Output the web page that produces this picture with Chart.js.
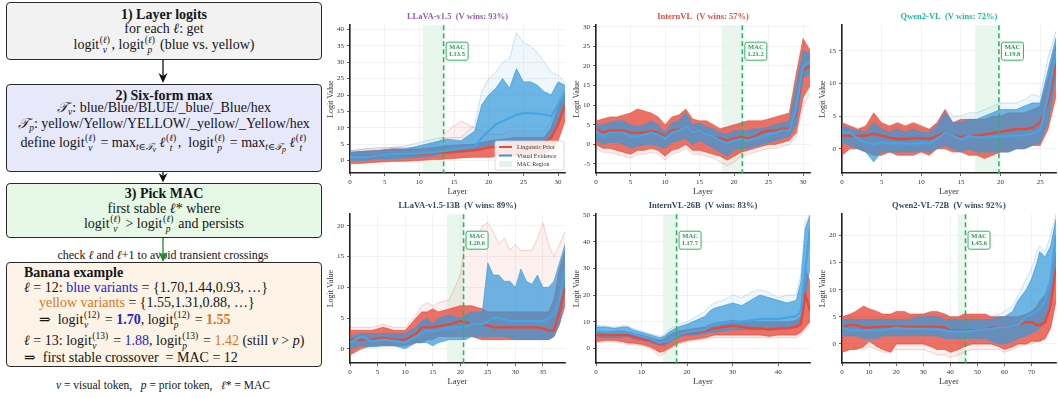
<!DOCTYPE html>
<html>
<head>
<meta charset="utf-8">
<script src="https://cdn.jsdelivr.net/npm/chart.js@4.4.1/dist/chart.umd.min.js"></script>
<style>
  html, body { margin: 0; padding: 0; background: #fff; }
  body { width: 1058px; height: 398px; position: relative; overflow: hidden;
         font-family: 'Liberation Serif', 'DejaVu Serif', serif; color: #151515; }
  .box { position: absolute; left: 6px; width: 316px; border: 1.3px solid #2a2a2a;
         border-radius: 4px; box-sizing: border-box; }
  .ln { position: absolute; left: 0; right: 0; text-align: center; white-space: nowrap;
        transform: translateY(-50%); line-height: 14px; font-size: 14px; }
  .ll { left: 17px; right: auto; text-align: left; }
  .b { font-weight: bold; }
  .ss { display: inline-block; font-size: 9.5px; line-height: 10px; vertical-align: -4px; margin: 0 1.5px 0 0.5px; }
  .ms { font-size: 9.5px; vertical-align: -3px; }
  .bl { color: #2424c8; }
  .or { color: #d9771e; }
  canvas { position: absolute; }
  #note { position: absolute; left: 0; width: 326px; top: 255px; text-align: center; font-size: 12px;
          transform: translateY(-50%); white-space: nowrap; }
  #foot { position: absolute; left: 0; width: 326px; top: 385px; text-align: center; font-size: 11.5px;
          transform: translateY(-50%); white-space: nowrap; }
</style>
</head>
<body>

<div class="box" style="top:2px;height:58px;background:#f2f2f2">
  <div class="ln b" style="top:12px">1) Layer logits</div>
  <div class="ln" style="top:26px">for each <i>ℓ</i>: get</div>
  <div class="ln" style="top:42px">logit<span class="ss">(<i>ℓ</i>)<br><i>v</i></span>, logit<span class="ss">(<i>ℓ</i>)<br><i>p</i></span> (blue vs. yellow)</div>
</div>

<div class="box" style="top:84px;height:88px;background:#e8e8fb">
  <div class="ln b" style="top:11px">2) Six-form max</div>
  <div class="ln" style="top:25px"><i>𝒯</i><span class="ms"><i>v</i></span>: blue/Blue/BLUE/_blue/_Blue/hex</div>
  <div class="ln" style="top:41px"><i>𝒯</i><span class="ms"><i>p</i></span>: yellow/Yellow/YELLOW/_yellow/_Yellow/hex</div>
  <div class="ln" style="top:60px">define logit<span class="ss">(<i>ℓ</i>)<br><i>v</i></span> = max<span class="ms"><i>t</i>∈<i>𝒯<sub>v</sub></i></span> <i>ℓ</i><span class="ss">(<i>ℓ</i>)<br><i>t</i></span>,&nbsp; logit<span class="ss">(<i>ℓ</i>)<br><i>p</i></span> = max<span class="ms"><i>t</i>∈<i>𝒯<sub>p</sub></i></span> <i>ℓ</i><span class="ss">(<i>ℓ</i>)<br><i>t</i></span></div>
</div>

<div class="box" style="top:183px;height:55px;background:#e6f8e6">
  <div class="ln b" style="top:10px">3) Pick MAC</div>
  <div class="ln" style="top:25px">first stable <i>ℓ</i>* where</div>
  <div class="ln" style="top:40px">logit<span class="ss">(<i>ℓ</i>)<br><i>v</i></span> &gt; logit<span class="ss">(<i>ℓ</i>)<br><i>p</i></span> and persists</div>
</div>

<div id="note">check <i>ℓ</i> and <i>ℓ</i>+1 to avoid transient crossings</div>

<div class="box" style="top:262px;height:105px;background:#fdf3e7">
  <div class="ln ll b" style="top:10px">Banana example</div>
  <div class="ln ll" style="top:25px"><i>ℓ</i> = 12: <span class="bl">blue variants</span> = {1.70,1.44,0.93, …}</div>
  <div class="ln ll" style="top:40px;left:32px"><span class="or">yellow variants</span> = {1.55,1.31,0.88, …}</div>
  <div class="ln ll" style="top:57px;left:32px">⇒ &nbsp;logit<span class="ss">(12)<br><i>v</i></span> = <b class="bl">1.70</b>, logit<span class="ss">(12)<br><i>p</i></span> = <b class="or">1.55</b></div>
  <div class="ln ll" style="top:78px"><i>ℓ</i> = 13: logit<span class="ss">(13)<br><i>v</i></span> = <span class="bl">1.88</span>, logit<span class="ss">(13)<br><i>p</i></span> = <span class="or">1.42</span> (still <i>v</i> &gt; <i>p</i>)</div>
  <div class="ln ll" style="top:95px">⇒ &nbsp;first stable crossover &nbsp;= MAC = 12</div>
</div>

<div id="foot"><i>v</i> = visual token, &nbsp;&nbsp;<i>p</i> = prior token, &nbsp;&nbsp;<i>ℓ</i>* = MAC</div>

<svg width="330" height="398" style="position:absolute;left:0;top:0;pointer-events:none">
  <line x1="163" y1="60" x2="163" y2="77" stroke="#111" stroke-width="1.3"/>
  <polygon points="158.5,73 163,83 167.5,73 163,76" fill="#111"/>
  <line x1="163" y1="172" x2="163" y2="177" stroke="#111" stroke-width="1.3"/>
  <polygon points="158.5,173 163,182.5 167.5,173 163,176" fill="#111"/>
  <line x1="163" y1="238" x2="163" y2="256" stroke="#1e8c1e" stroke-width="1.3"/>
  <polygon points="158.5,252 163,262 167.5,252 163,255" fill="#1e8c1e"/>
</svg>

<canvas id="p0" width="245" height="190" style="left:322px;top:8px"></canvas>
<canvas id="p1" width="244" height="190" style="left:568px;top:8px"></canvas>
<canvas id="p2" width="244" height="190" style="left:814px;top:8px"></canvas>
<canvas id="p3" width="245" height="191" style="left:322px;top:197px"></canvas>
<canvas id="p4" width="244" height="191" style="left:568px;top:197px"></canvas>
<canvas id="p5" width="244" height="191" style="left:814px;top:197px"></canvas>

<script>
// ---- panel settings ----
const panelTitles = ['LLaVA-v1.5  (V wins: 93%)', 'InternVL  (V wins: 57%)', 'Qwen2-VL  (V wins: 72%)',
                     'LLaVA-v1.5-13B  (V wins: 89%)', 'InternVL-26B  (V wins: 83%)', 'Qwen2-VL-72B  (V wins: 92%)'];
const titleColors = ['#9b59b6', '#e74c3c', '#1abc9c', '#34495e', '#34495e', '#34495e'];
const lastLayer = [31, 31, 27, 39, 47, 79];
const macLayer = [13.5, 21.2, 19.8, 20.6, 17.7, 45.6];
const macSpan = 3;
const yMin = [-3.8, -7.3, -3.7, -2.3, -5.5, -3.5];
const yMax = [41.3, 30.4, 18.9, 21.9, 50.3, 23.9];
const yStep = [5, 5, 5, 5, 10, 5];
const xStep = [5, 5, 5, 5, 10, 10];
const legendLabels = ['Linguistic Prior', 'Visual Evidence', 'MAC Region'];

// ---- LLaVA-v1.5 ----
const p0Layers   = [0, 2, 4, 6, 8, 10, 12, 13, 14, 16, 18, 19, 20, 21, 22, 23, 24, 25, 26, 27, 28, 29, 30, 31];
const p0Prior    = [1.0, 1.2, 1.5, 2.0, 1.8, 2.0, 2.3, 2.5, 2.5, 2.8, 3.2, 3.5, 4.0, 4.2, 4.5, 4.8, 5.0, 5.2, 5.3, 5.5, 5.6, 7.0, 11.0, 17.0];
const p0Visual   = [1.0, 1.0, 1.5, 2.0, 2.0, 2.2, 2.5, 2.8, 3.0, 3.8, 4.2, 7.0, 9.0, 11.0, 12.0, 13.0, 14.0, 14.5, 14.5, 14.3, 14.0, 13.5, 17.0, 20.5];
const p0PriorHi  = [2.5, 2.8, 3.0, 3.5, 3.5, 3.5, 4.0, 4.2, 4.5, 4.8, 5.0, 5.5, 6.0, 6.3, 6.5, 6.8, 7.0, 7.0, 7.0, 7.0, 7.0, 10.0, 16.0, 21.0];
const p0PriorLo  = [-1.0, -0.8, -0.5, -0.3, -0.2, 0.0, 0.3, 0.3, 0.5, 0.8, 1.0, 1.0, 1.0, 1.2, 1.3, 1.4, 1.5, 1.6, 1.7, 1.8, 2.0, 3.0, 6.0, 12.0];
const p0VisualHi = [2.5, 2.8, 3.0, 3.5, 3.5, 4.5, 5.5, 6.0, 6.5, 6.0, 9.0, 17.0, 20.0, 22.0, 25.0, 22.0, 28.0, 24.0, 24.0, 23.0, 21.0, 20.0, 24.0, 23.0];
const p0VisualLo = [0.0, 0.0, 0.5, 0.5, 0.8, 1.0, 1.5, 2.0, 2.0, 2.5, 3.0, 3.5, 4.0, 4.5, 5.0, 5.0, 5.0, 5.5, 5.5, 6.0, 6.0, 7.0, 12.0, 16.0];
const p0VisualFaint = [3.0, 3.5, 4.0, 4.0, 4.5, 5.5, 6.5, 7.0, 7.0, 7.0, 11.0, 21.0, 25.0, 27.0, 30.0, 31.0, 39.0, 36.0, 35.0, 33.0, 30.0, 27.0, 26.0, 24.0];
const p0PriorFaint  = [3.0, 3.5, 3.5, 4.0, 4.0, 4.0, 5.0, 6.0, 9.0, 12.0, 10.0, 9.0, 8.0, 8.0, 8.0, 9.0, 9.0, 9.0, 9.0, 9.0, 9.0, 12.0, 18.0, 22.0];

// ---- InternVL ----
const p1Layers   = [0, 1, 2, 3, 4, 5, 6, 7, 8, 9, 10, 11, 12, 13, 14, 15, 16, 17, 18, 19, 20, 21, 22, 23, 24, 25, 26, 27, 28, 29, 30, 31];
const p1Prior    = [4.0, 3.0, 3.5, 3.5, 3.5, 3.0, 3.0, 3.0, 3.5, 3.0, 2.0, 3.5, 3.8, 4.5, 3.0, 3.5, 2.5, 2.0, 1.5, 1.0, 1.5, 2.0, 1.5, 2.0, 3.0, 3.5, 3.5, 4.0, 4.0, 8.0, 19.0, 20.0];
const p1Visual   = [3.5, 2.0, 3.0, 3.0, 3.0, 2.0, 2.0, 2.5, 3.0, 2.5, 1.5, 3.0, 3.5, 4.5, 3.0, 3.5, 2.5, 2.0, 1.0, 0.3, 1.0, 1.3, 1.0, 1.5, 2.0, 2.5, 3.0, 3.5, 3.5, 9.0, 20.0, 21.0];
const p1PriorHi  = [6.0, 6.5, 7.0, 7.0, 7.5, 8.0, 9.0, 8.5, 8.0, 7.0, 5.0, 7.0, 7.5, 9.0, 6.5, 6.0, 6.0, 5.0, 4.0, 4.5, 5.0, 5.5, 6.0, 6.0, 6.0, 6.5, 7.0, 7.5, 8.0, 18.0, 27.0, 24.0];
const p1PriorLo  = [0.0, -1.0, -1.0, -1.5, -2.0, -2.5, -1.5, -1.5, -1.0, -1.5, -3.0, -1.5, -1.0, 0.0, -1.5, -1.5, -2.0, -2.5, -3.0, -4.0, -3.0, -2.0, -1.5, -1.0, -0.5, 0.0, 0.0, 0.5, 1.0, 3.0, 12.0, 15.0];
const p1VisualHi = [5.0, 5.0, 5.5, 6.0, 6.0, 5.0, 4.5, 5.0, 6.0, 5.0, 3.0, 5.5, 6.0, 8.0, 5.0, 5.5, 4.5, 4.0, 3.0, 2.5, 3.5, 3.5, 3.5, 4.0, 4.0, 4.5, 5.0, 5.5, 6.0, 15.0, 24.0, 23.0];
const p1VisualLo = [1.0, 0.0, 0.5, 0.5, 0.0, -1.0, -0.5, 0.0, 0.0, -0.5, -1.0, 0.5, 1.0, 1.5, 0.0, 1.0, 0.0, -1.0, -2.0, -3.0, -1.5, -1.0, -1.0, -0.5, 0.0, 0.5, 1.0, 1.5, 2.0, 5.0, 17.0, 18.0];
const p1PriorFaint = [-1.0, -2.0, -2.0, -2.5, -3.0, -3.5, -2.5, -2.5, -2.0, -2.5, -4.0, -2.5, -2.0, -1.0, -2.5, -2.5, -3.0, -3.5, -4.5, -5.5, -4.5, -3.0, -2.5, -2.0, -1.5, -1.0, -1.0, -0.5, 0.0, 2.0, 10.0, 13.0];

// ---- Qwen2-VL ----
const p2Layers   = [0, 1, 2, 3, 4, 5, 6, 7, 8, 9, 10, 11, 12, 13, 14, 15, 16, 17, 18, 19, 20, 21, 22, 23, 24, 25, 26, 27];
const p2Prior    = [2.0, 2.0, 2.0, 2.0, 2.3, 2.0, 1.7, 1.5, 1.5, 1.6, 1.6, 1.5, 2.0, 2.5, 2.0, 1.8, 2.0, 2.0, 2.2, 2.4, 2.6, 2.8, 3.0, 3.0, 3.2, 4.0, 7.0, 13.0];
const p2Visual   = [2.5, 2.5, 1.5, 1.0, 0.7, 1.0, 0.8, 0.9, 0.8, 0.8, 0.9, 0.8, 1.5, 2.5, 2.0, 1.4, 2.0, 1.7, 1.8, 1.8, 1.9, 2.0, 2.0, 2.1, 2.3, 2.8, 8.0, 15.0];
const p2PriorHi  = [4.0, 3.5, 3.0, 3.5, 5.5, 4.0, 3.5, 4.0, 3.5, 4.0, 3.5, 3.0, 4.0, 6.0, 4.0, 4.5, 4.5, 4.5, 4.5, 5.0, 5.0, 5.5, 5.5, 5.5, 6.0, 6.5, 11.0, 16.0];
const p2PriorLo  = [-1.0, 0.0, 0.0, -0.5, -1.0, -1.0, -0.5, -1.0, -1.0, -1.0, -0.5, -1.0, 0.0, 0.0, -0.5, -0.5, -1.0, -1.0, -1.5, -1.0, -0.5, -0.5, 0.0, 0.0, 0.5, 0.5, 3.0, 8.0];
const p2VisualHi = [3.5, 3.0, 2.8, 2.5, 4.0, 3.0, 2.5, 3.0, 2.5, 3.0, 2.5, 2.5, 3.5, 5.5, 4.0, 4.0, 4.5, 4.5, 5.0, 5.5, 6.0, 6.0, 6.0, 6.5, 7.0, 7.0, 12.0, 17.0];
const p2VisualLo = [1.0, 0.5, 0.0, -0.5, -2.0, -0.5, -0.5, -0.5, -0.5, -0.5, -0.3, -0.5, 0.0, 0.5, 0.0, -0.5, 0.0, -0.5, -0.5, -0.5, -0.5, -0.5, 0.0, 0.0, 0.5, 1.0, 4.0, 11.0];
const p2VisualFaint = [4.0, 3.5, 3.2, 3.0, 4.5, 3.5, 3.0, 3.5, 3.0, 3.5, 3.0, 3.0, 4.0, 6.0, 5.0, 5.0, 5.5, 5.5, 6.0, 6.5, 7.0, 7.0, 7.0, 7.5, 8.3, 8.0, 14.0, 18.0];

// ---- LLaVA-v1.5-13B ----
const p3Layers   = [0, 2, 4, 6, 8, 10, 12, 13, 14, 15, 16, 18, 20, 21, 22, 24, 25, 26, 27, 28, 29, 30, 31, 32, 33, 34, 35, 36, 37, 38, 39];
const p3Prior    = [1.5, 1.5, 1.5, 1.8, 1.5, 1.5, 2.5, 3.5, 3.5, 3.5, 3.7, 4.0, 4.5, 4.3, 4.0, 4.0, 3.8, 3.5, 3.5, 3.5, 3.5, 3.5, 3.5, 3.5, 3.5, 3.5, 3.3, 3.0, 3.0, 6.0, 10.0];
const p3Visual   = [1.0, 2.0, 1.2, 1.5, 1.3, 1.0, 2.0, 2.5, 3.0, 2.8, 3.0, 3.5, 3.5, 3.5, 4.0, 4.0, 4.5, 5.0, 5.0, 4.8, 4.5, 4.5, 4.5, 4.5, 4.5, 4.5, 4.5, 5.0, 5.5, 8.0, 13.0];
const p3PriorHi  = [3.0, 3.0, 3.0, 3.5, 3.0, 3.0, 5.0, 6.0, 6.0, 6.5, 6.0, 6.5, 7.0, 7.0, 7.0, 6.5, 6.0, 6.0, 6.0, 6.0, 6.0, 6.0, 6.0, 6.0, 6.0, 6.0, 6.0, 6.0, 8.0, 13.0, 16.0];
const p3PriorLo  = [-1.0, 0.0, 0.5, 0.5, 0.5, 0.5, 1.0, 1.0, 1.5, 1.5, 2.0, 2.0, 2.0, 2.0, 2.0, 1.5, 1.5, 1.5, 1.5, 1.5, 1.5, 1.5, 1.5, 1.5, 1.5, 1.5, 1.5, 1.5, 2.0, 4.0, 7.0];
const p3VisualHi = [2.0, 2.5, 2.5, 2.5, 2.5, 2.5, 3.5, 4.5, 5.0, 4.0, 5.0, 5.5, 5.0, 5.5, 6.0, 6.0, 14.0, 12.0, 12.0, 11.0, 11.0, 10.0, 13.0, 11.0, 10.5, 12.0, 10.0, 10.0, 11.0, 14.0, 17.0];
const p3VisualLo = [0.0, 0.5, 0.3, 0.5, 0.5, 0.0, 1.0, 1.0, 1.0, 0.5, 1.0, 1.5, 1.5, 1.5, 2.0, 2.0, 2.0, 2.0, 2.0, 2.0, 1.8, 1.5, 1.5, 1.5, 1.5, 1.5, 1.5, 1.5, 2.0, 4.0, 9.0];
const p3PriorFaint = [3.5, 3.5, 3.5, 4.0, 3.5, 3.5, 5.5, 7.0, 7.5, 7.0, 7.5, 8.0, 12.0, 18.0, 16.0, 20.0, 20.5, 19.0, 17.0, 18.0, 16.0, 17.0, 16.0, 16.0, 16.0, 18.0, 20.5, 17.0, 15.0, 17.0, 19.0];

// ---- InternVL-26B ----
const p4Layers   = [0, 2, 4, 6, 7, 8, 10, 12, 14, 15, 16, 18, 20, 22, 24, 25, 26, 28, 30, 32, 34, 36, 38, 40, 42, 44, 45, 46, 47];
const p4Prior    = [5.0, 5.0, 5.0, 5.0, 5.0, 4.5, 3.5, 3.0, 1.5, 2.0, 3.0, 5.0, 5.5, 6.0, 6.5, 7.0, 7.5, 8.0, 8.5, 8.0, 7.5, 7.5, 7.0, 7.5, 7.5, 8.0, 9.0, 20.0, 14.0];
const p4Visual   = [6.5, 6.0, 6.0, 6.0, 6.0, 5.5, 4.5, 3.5, 2.0, 2.5, 3.0, 5.0, 6.0, 6.5, 7.0, 8.5, 9.0, 9.5, 10.0, 10.0, 10.5, 11.0, 11.0, 11.0, 11.5, 12.0, 14.0, 30.0, 45.0];
const p4PriorHi  = [6.0, 6.0, 6.5, 6.5, 6.0, 5.5, 5.0, 4.0, 3.0, 3.5, 5.0, 6.5, 7.0, 7.5, 8.0, 9.0, 9.5, 10.0, 10.5, 10.0, 10.0, 10.0, 10.0, 10.0, 10.0, 10.5, 12.0, 30.0, 25.0];
const p4PriorLo  = [2.5, 3.0, 3.0, 2.5, 2.0, 2.0, 1.5, 0.5, -1.5, -1.0, 0.0, 2.0, 3.0, 3.5, 4.0, 4.5, 5.0, 5.0, 5.0, 5.0, 5.0, 5.0, 4.5, 5.0, 5.0, 5.0, 6.0, 8.0, 10.0];
const p4VisualHi = [8.0, 8.0, 7.5, 8.0, 8.0, 7.0, 6.0, 5.0, 4.0, 4.5, 6.0, 8.0, 9.0, 10.5, 12.0, 14.0, 15.0, 16.0, 17.0, 16.0, 18.0, 20.0, 19.0, 18.0, 17.0, 18.0, 25.0, 45.0, 50.0];
const p4VisualLo = [4.0, 4.0, 4.0, 4.0, 4.5, 3.5, 3.0, 2.0, 1.0, 1.0, 2.0, 4.0, 5.0, 5.0, 5.5, 6.0, 6.0, 6.5, 7.0, 7.0, 7.0, 7.0, 7.0, 7.0, 7.5, 8.0, 10.0, 20.0, 30.0];
const p4VisualFaint = [8.5, 8.5, 8.0, 8.5, 8.5, 7.5, 6.5, 5.5, 4.5, 5.0, 7.0, 9.0, 10.0, 12.0, 14.0, 16.0, 17.0, 18.0, 20.0, 19.0, 21.0, 22.0, 21.0, 19.0, 20.0, 20.0, 28.0, 48.0, 50.0];
const p4PriorFaint  = [2.0, 2.5, 2.5, 2.0, 1.5, 1.5, 1.0, 0.0, -3.0, -2.0, -0.5, 1.5, 2.5, 3.0, 3.5, 4.0, 4.0, 4.0, 4.0, 4.0, 4.0, 4.0, 4.0, 4.0, 4.0, 4.0, 5.0, 7.0, 9.0];

// ---- Qwen2-VL-72B ----
const p5Layers   = [0, 3, 5, 8, 10, 13, 15, 18, 20, 23, 25, 28, 30, 33, 35, 38, 40, 43, 45, 48, 50, 53, 55, 58, 60, 63, 65, 68, 70, 72, 73, 75, 77, 79];
const p5Prior    = [3.0, 3.5, 3.5, 3.0, 3.0, 3.2, 3.2, 3.2, 3.2, 3.2, 3.2, 3.2, 3.2, 3.2, 3.2, 3.0, 2.5, 2.5, 2.5, 2.5, 2.5, 2.7, 3.0, 3.0, 3.0, 3.2, 3.5, 4.0, 4.0, 3.5, 3.5, 4.0, 7.0, 14.0];
const p5Visual   = [3.0, 2.5, 2.5, 2.5, 2.5, 2.5, 2.5, 2.8, 3.0, 2.8, 2.8, 2.8, 2.8, 2.7, 2.7, 2.5, 2.3, 2.3, 2.3, 2.4, 2.5, 2.7, 2.8, 3.0, 3.0, 3.3, 3.5, 5.0, 5.5, 6.0, 6.5, 8.0, 12.0, 20.0];
const p5PriorHi  = [5.0, 5.5, 6.0, 7.0, 6.5, 6.0, 5.5, 5.5, 6.0, 6.0, 5.5, 5.5, 5.5, 6.0, 6.0, 5.5, 5.0, 5.0, 5.5, 5.5, 5.5, 5.5, 5.0, 5.0, 5.0, 5.0, 5.0, 5.5, 6.0, 7.0, 8.0, 9.0, 12.0, 17.0];
const p5PriorLo  = [-1.5, -1.0, -1.0, -0.5, 0.5, -0.5, -1.0, -1.5, 0.0, 0.0, 0.0, 0.0, 0.0, -0.5, -1.0, -1.0, -1.5, -1.0, -0.5, 0.0, 0.0, 0.0, 0.0, -0.5, -1.0, -0.5, 0.0, 0.0, 0.5, 0.5, 0.5, 1.0, 3.0, 8.0];
const p5VisualHi = [4.5, 4.5, 4.5, 4.5, 4.5, 4.5, 4.5, 4.5, 4.5, 4.5, 4.5, 5.0, 5.0, 5.0, 5.0, 4.5, 4.5, 4.5, 4.5, 4.5, 4.5, 4.5, 4.5, 5.0, 5.0, 6.0, 8.0, 10.0, 12.0, 15.0, 17.0, 16.0, 18.0, 23.0];
const p5VisualLo = [1.5, 1.5, 1.5, 1.0, 1.0, 1.0, 1.5, 1.5, 1.5, 1.5, 1.5, 1.5, 1.5, 1.5, 1.5, 1.0, 1.0, 1.0, 1.0, 1.0, 1.0, 1.0, 0.5, 0.0, 0.0, 0.5, 1.0, 1.5, 2.0, 2.5, 3.0, 4.0, 8.0, 15.0];
const p5VisualFaint = [5.0, 5.0, 5.0, 5.0, 5.0, 5.0, 5.0, 5.0, 5.0, 5.0, 5.0, 5.5, 5.5, 5.5, 5.5, 5.0, 5.0, 5.0, 5.0, 5.0, 5.0, 5.0, 5.0, 5.5, 6.0, 7.0, 9.0, 12.0, 14.0, 17.0, 18.0, 17.0, 20.0, 24.0];
const p5PriorFaint  = [-1.5, -1.0, -0.5, -1.0, -0.5, -1.0, -1.5, -1.5, -1.0, -1.0, -1.0, -1.0, -1.0, -1.5, -2.0, -2.0, -2.5, -2.0, -1.5, -1.0, -1.0, -1.0, -1.0, -1.0, -1.5, -1.0, -0.5, 0.0, 0.0, 0.5, 0.5, 1.0, 3.0, 8.0];

const panels = [
  { xs: p0Layers, prior: p0Prior, visual: p0Visual, pHi: p0PriorHi, pLo: p0PriorLo, vHi: p0VisualHi, vLo: p0VisualLo,
    faint: [[p0VisualFaint, p0VisualHi, 'v'], [p0PriorFaint, p0PriorHi, 'p']] },
  { xs: p1Layers, prior: p1Prior, visual: p1Visual, pHi: p1PriorHi, pLo: p1PriorLo, vHi: p1VisualHi, vLo: p1VisualLo,
    faint: [[p1PriorLo, p1PriorFaint, 'p']] },
  { xs: p2Layers, prior: p2Prior, visual: p2Visual, pHi: p2PriorHi, pLo: p2PriorLo, vHi: p2VisualHi, vLo: p2VisualLo,
    faint: [[p2VisualFaint, p2VisualHi, 'v']] },
  { xs: p3Layers, prior: p3Prior, visual: p3Visual, pHi: p3PriorHi, pLo: p3PriorLo, vHi: p3VisualHi, vLo: p3VisualLo,
    faint: [[p3PriorFaint, p3PriorHi, 'p']] },
  { xs: p4Layers, prior: p4Prior, visual: p4Visual, pHi: p4PriorHi, pLo: p4PriorLo, vHi: p4VisualHi, vLo: p4VisualLo,
    faint: [[p4VisualFaint, p4VisualHi, 'v'], [p4PriorLo, p4PriorFaint, 'p']] },
  { xs: p5Layers, prior: p5Prior, visual: p5Visual, pHi: p5PriorHi, pLo: p5PriorLo, vHi: p5VisualHi, vLo: p5VisualLo,
    faint: [[p5VisualFaint, p5VisualHi, 'v'], [p5PriorLo, p5PriorFaint, 'p']] },
];

const RED = 'rgba(231,76,60,';
const BLUE = 'rgba(52,152,219,';
const GREEN = '#2eb561';

Chart.defaults.font.family = "'Liberation Serif', 'DejaVu Serif', serif";
Chart.defaults.color = '#333';

function pts(xs, ys) { return xs.map((x, i) => ({ x: x, y: ys[i] })); }

function band(xs, hi, lo, rgb, alpha, edge) {
  return [
    { data: pts(xs, hi), fill: '+1', backgroundColor: rgb + alpha + ')', borderColor: rgb + edge + ')', borderWidth: 0.7 },
    { data: pts(xs, lo), fill: false, borderColor: rgb + edge + ')', borderWidth: 0.7 }
  ];
}

/* ─────────── MAC region, marker, label and legend ─────────── */

const macPlugin = {
  id: 'mac',
  beforeDraw(chart, args, o) {
    const { ctx, chartArea: a, scales: { x } } = chart;
    const x0 = x.getPixelForValue(o.layer - macSpan), x1 = x.getPixelForValue(o.layer);
    ctx.save();
    ctx.fillStyle = 'rgba(46,181,97,0.11)';
    ctx.fillRect(x0, a.top, x1 - x0, a.bottom - a.top);
    ctx.restore();
  },
  afterDatasetsDraw(chart, args, o) {
    const { ctx, chartArea: a, scales: { x } } = chart;
    const xm = x.getPixelForValue(o.layer);
    ctx.save();
    ctx.strokeStyle = GREEN;
    ctx.lineWidth = 1.6;
    ctx.setLineDash([5, 3]);
    ctx.beginPath();
    ctx.moveTo(xm, a.top);
    ctx.lineTo(xm, a.bottom);
    ctx.stroke();
    ctx.setLineDash([]);

    // label box
    const bx = xm + 2.5, by = a.top + 17, bw = 22, bh = 18;
    ctx.fillStyle = 'rgba(255,255,255,0.9)';
    ctx.strokeStyle = GREEN;
    ctx.lineWidth = 1;
    ctx.beginPath();
    ctx.roundRect(bx, by, bw, bh, 2);
    ctx.fill();
    ctx.stroke();
    ctx.fillStyle = '#27a055';
    ctx.font = "bold 6.5px 'Liberation Serif', serif";
    ctx.textAlign = 'center';
    ctx.textBaseline = 'middle';
    ctx.fillText('MAC', bx + bw / 2, by + 5.5);
    ctx.fillText('L' + o.layer.toFixed(1), bx + bw / 2, by + 12.5);

    if (o.legend) {
      const lw = 69, lh = 29;
      const lx = a.right - lw - 1, ly = a.bottom - lh - 3;
      ctx.fillStyle = 'rgba(255,255,255,0.85)';
      ctx.strokeStyle = '#d0d0d0';
      ctx.lineWidth = 0.8;
      ctx.beginPath();
      ctx.roundRect(lx, ly, lw, lh, 2);
      ctx.fill();
      ctx.stroke();
      const swatch = ['rgb(231,76,60)', 'rgb(52,152,219)', 'rgba(46,181,97,0.15)'];
      ctx.font = "6px 'Liberation Serif', serif";
      ctx.textAlign = 'left';
      legendLabels.forEach((t, i) => {
        const yy = ly + 6 + i * 8.5;
        if (i < 2) {
          ctx.strokeStyle = swatch[i];
          ctx.lineWidth = 2;
          ctx.beginPath();
          ctx.moveTo(lx + 4, yy);
          ctx.lineTo(lx + 17, yy);
          ctx.stroke();
        } else {
          ctx.fillStyle = swatch[i];
          ctx.fillRect(lx + 4, yy - 3, 13, 6);
        }
        ctx.fillStyle = '#333';
        ctx.fillText(t, lx + 22, yy + 0.5);
      });
    }
    ctx.restore();
  }
};

function makeChart(i) {
  const p = panels[i];
  let sets = [];
  p.faint.forEach(f => {
    sets = sets.concat(band(p.xs, f[0], f[1], f[2] === 'v' ? BLUE : RED, 0.08, 0.35));
  });
  sets = sets.concat(band(p.xs, p.pHi, p.pLo, RED, 0.8, 0.85));
  sets = sets.concat(band(p.xs, p.vHi, p.vLo, BLUE, 0.72, 0.8));
  sets.push({ data: pts(p.xs, p.prior), borderColor: 'rgb(236,70,52)', borderWidth: 2.3, fill: false });
  sets.push({ data: pts(p.xs, p.visual), borderColor: 'rgb(70,165,228)', borderWidth: 2.3, fill: false });
  const n = sets.length;
  sets.forEach((s, k) => { s.order = n - k; s.pointRadius = 0; s.tension = 0; });

  const axisBorder = { display: true, color: '#222', width: 1.6 };
  const grid = { color: '#ececec', lineWidth: 0.7, tickColor: '#222', tickLength: 3 };

  new Chart(document.getElementById('p' + i), {
    type: 'line',
    data: { datasets: sets },
    plugins: [macPlugin],
    options: {
      responsive: false,
      animation: false,
      layout: { padding: { left: 0, right: 2, top: 0, bottom: 0 } },
      plugins: {
        legend: { display: false },
        tooltip: { enabled: false },
        title: {
          display: true, text: panelTitles[i], color: titleColors[i], fullSize: false,
          font: { size: 8.5, weight: 'bold', lineHeight: 1.2 }, padding: { top: 4, bottom: 3 }
        },
        mac: { layer: macLayer[i], legend: i === 0 }
      },
      scales: {
        x: {
          type: 'linear', min: 0, max: lastLayer[i],
          ticks: { stepSize: xStep[i], includeBounds: false, font: { size: 7 }, padding: 2, maxRotation: 0, color: '#333' },
          grid: grid, border: axisBorder,
          title: { display: true, text: 'Layer', font: { size: 8.5 }, padding: { top: 0, bottom: 1 }, color: '#333' },
          afterFit: s => { s.height = 25; }
        },
        y: {
          min: yMin[i], max: yMax[i],
          ticks: { stepSize: yStep[i], includeBounds: false, font: { size: 7 }, padding: 3, color: '#333' },
          grid: grid, border: axisBorder,
          title: { display: true, text: 'Logit Value', font: { size: 8 }, padding: { top: 4, bottom: 0 }, color: '#333' },
          afterFit: s => { s.width = 28; }
        }
      }
    }
  });
}

for (let i = 0; i < panels.length; i++) makeChart(i);
</script>
</body>
</html>
